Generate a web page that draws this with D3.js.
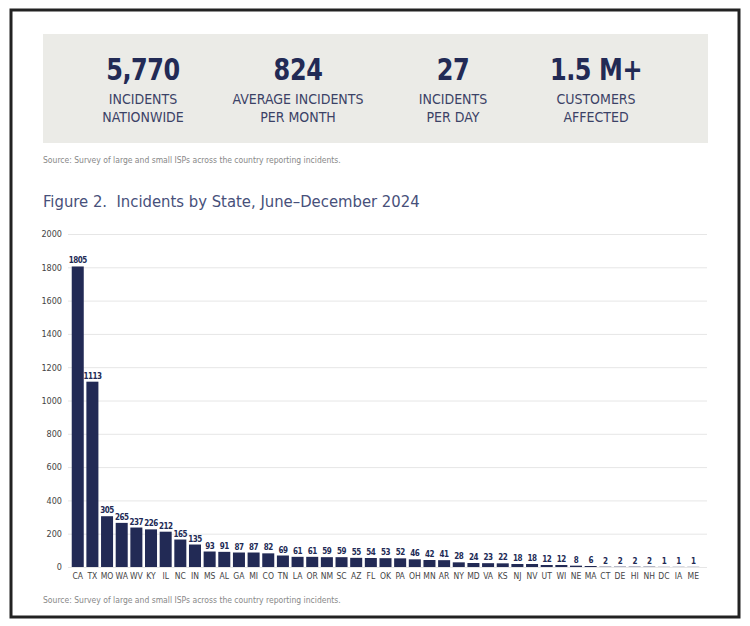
<!DOCTYPE html>
<html>
<head>
<meta charset="utf-8">
<script src="https://cdn.jsdelivr.net/npm/d3@7/dist/d3.min.js"></script>
<style>
  body { margin: 0; background: #fff; }
  svg text { font-family: "DejaVu Sans Condensed", "Liberation Sans Narrow", sans-serif; }
</style>
</head>
<body>
<svg id="chart" width="750" height="626"></svg>
<script>
var states = ["CA","TX","MO","WA","WV","KY","IL","NC","IN","MS","AL","GA","MI","CO","TN","LA","OR","NM","SC","AZ","FL","OK","PA","OH","MN","AR","NY","MD","VA","KS","NJ","NV","UT","WI","NE","MA","CT","DE","HI","NH","DC","IA","ME"];
var incidents = [1805,1113,305,265,237,226,212,165,135,93,91,87,87,82,69,61,61,59,59,55,54,53,52,46,42,41,28,24,23,22,18,18,12,12,8,6,2,2,2,2,1,1,1];
var yTicks = [0,200,400,600,800,1000,1200,1400,1600,1800,2000];

var statValues = ["5,770","824","27","1.5 M+"];
var statLabels = [["INCIDENTS","NATIONWIDE"],["AVERAGE INCIDENTS","PER MONTH"],["INCIDENTS","PER DAY"],["CUSTOMERS","AFFECTED"]];
var statX = [143, 298, 453, 596];

var navy = "#222a55";
var svg = d3.select("#chart");

// frame
svg.append("rect")
    .attr("x", 11).attr("y", 10)
    .attr("width", 728).attr("height", 607)
    .attr("fill", "none")
    .attr("stroke", "#222")
    .attr("stroke-width", 3);

// stat box
svg.append("rect")
    .attr("x", 43).attr("y", 34)
    .attr("width", 665).attr("height", 109)
    .attr("fill", "#ebebe7");

var stats = svg.selectAll(".stat")
    .data(statValues)
    .enter().append("g")
    .attr("class", "stat")
    .attr("transform", (d, i) => `translate(${statX[i]},0)`);

stats.append("text")
    .attr("y", 80)
    .attr("text-anchor", "middle")
    .attr("fill", navy)
    .attr("transform", "scale(0.86,1)")
    .attr("x", 0)
    .style("font-size", "31px")
    .style("font-weight", "bold")
    .style("letter-spacing", "-0.5px")
    .text(d => d);

stats.each(function(d, i) {
    d3.select(this).selectAll(".lbl")
        .data(statLabels[i])
        .enter().append("text")
        .attr("class", "lbl")
        .attr("y", (t, j) => 104 + j * 18)
        .attr("text-anchor", "middle")
        .attr("fill", "#3b4266")
        .style("font-size", "14px")
        .text(t => t);
});

svg.append("text")
    .attr("x", 43).attr("y", 163)
    .attr("fill", "#888")
    .style("font-size", "8.5px")
    .text("Source: Survey of large and small ISPs across the country reporting incidents.");

svg.append("text")
    .attr("x", 43).attr("y", 207)
    .attr("fill", "#47507a")
    .style("font-size", "16.5px")
    .style("white-space", "pre")
    .text("Figure 2.  Incidents by State, June\u2013December 2024");

// chart
var margin = {left: 71, right: 700, top: 234, bottom: 567};

var x = d3.scaleBand()
    .domain(states)
    .range([margin.left, margin.right])
    .paddingInner(0.18)
    .paddingOuter(0.05);

var y = d3.scaleLinear()
    .domain([0, 2000])
    .range([margin.bottom, margin.top]);

var yAxis = svg.append("g")
    .attr("transform", `translate(68,0)`)
    .call(d3.axisLeft(y).tickValues(yTicks).tickSize(-(707 - 68)).tickPadding(6).tickFormat(d3.format("d")));

yAxis.select(".domain").remove();
yAxis.selectAll(".tick line").attr("stroke", "#e6e6e6");
yAxis.selectAll(".tick text")
    .attr("fill", "#444")
    .style("font-size", "9px");

svg.append("g")
    .selectAll("rect")
    .data(incidents)
    .enter().append("rect")
    .attr("x", (d, i) => x(states[i]))
    .attr("y", d => y(d))
    .attr("width", x.bandwidth())
    .attr("height", d => y(0) - y(d))
    .attr("fill", navy);

svg.append("g")
    .selectAll("text")
    .data(incidents)
    .enter().append("text")
    .attr("x", (d, i) => x(states[i]) + x.bandwidth() / 2)
    .attr("y", d => y(d) - 3)
    .attr("text-anchor", "middle")
    .attr("fill", navy)
    .style("font-size", "8px")
    .style("font-weight", "bold")
    .style("letter-spacing", "-0.5px")
    .text(d => d);

var xAxis = svg.append("g")
    .attr("transform", `translate(0,${margin.bottom})`)
    .call(d3.axisBottom(x).tickSize(0).tickPadding(6));

xAxis.select(".domain").remove();
xAxis.selectAll(".tick text")
    .attr("fill", "#444")
    .style("font-size", "8.5px");

svg.append("text")
    .attr("x", 43).attr("y", 603)
    .attr("fill", "#888")
    .style("font-size", "8.5px")
    .text("Source: Survey of large and small ISPs across the country reporting incidents.");
</script>
</body>
</html>
